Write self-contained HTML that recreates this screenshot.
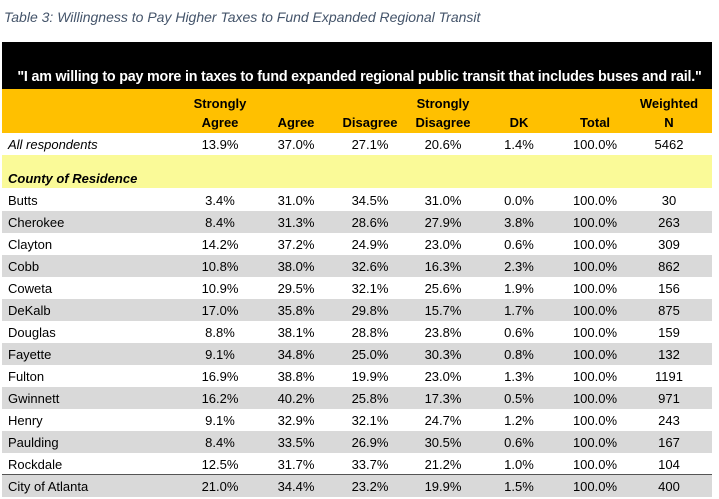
<!DOCTYPE html>
<html><head><meta charset="utf-8"><style>
body{margin:0;width:719px;height:499px;background:#fff;font-family:"Liberation Sans",sans-serif;position:relative;overflow:hidden}
.t{position:absolute;left:4px;top:9px;font-style:italic;font-size:14px;color:#44546a}
.b{position:absolute;left:2px;width:710px}
.r{position:absolute;left:2px;width:710px;height:22px;font-size:13px;color:#000}
.r span{position:absolute;top:4px;text-align:center;width:74px}
.r span.l{left:6px;text-align:left;width:170px}
.g{background:#d9d9d9}
</style></head><body>
<div class="t">Table 3: Willingness to Pay Higher Taxes to Fund Expanded Regional Transit</div>
<div class="b" style="top:42px;height:47px;background:#000"></div>
<div style="position:absolute;left:0px;width:719px;top:69px;text-align:center;color:#fff;font-weight:bold;font-size:14.3px;letter-spacing:-0.2px;white-space:nowrap">"I am willing to pay more in taxes to fund expanded regional public transit that includes buses and rail."</div>
<div class="b" style="top:89px;height:44px;background:#ffc000"></div>
<div style="position:absolute;top:94px;left:0;width:719px;font-weight:bold;font-size:13px;line-height:19px">
<div style="position:absolute;left:183px;width:74px;text-align:center">Strongly<br>Agree</div>
<div style="position:absolute;left:259px;width:74px;text-align:center"><br>Agree</div>
<div style="position:absolute;left:333px;width:74px;text-align:center"><br>Disagree</div>
<div style="position:absolute;left:406px;width:74px;text-align:center">Strongly<br>Disagree</div>
<div style="position:absolute;left:482px;width:74px;text-align:center"><br>DK</div>
<div style="position:absolute;left:558px;width:74px;text-align:center"><br>Total</div>
<div style="position:absolute;left:632px;width:74px;text-align:center">Weighted<br>N</div>
</div>
<div class="r" style="top:133px"><span class="l" style="font-style:italic">All respondents</span><span style="left:181px">13.9%</span><span style="left:257px">37.0%</span><span style="left:331px">27.1%</span><span style="left:404px">20.6%</span><span style="left:480px">1.4%</span><span style="left:556px">100.0%</span><span style="left:630px">5462</span></div>
<div class="b" style="top:155px;height:33px;background:#fafa98"></div>
<div style="position:absolute;left:8px;top:171px;font-weight:bold;font-style:italic;font-size:13px">County of Residence</div>
<div id="rows"></div>
<div style="position:absolute;left:2px;width:710px;top:474px;height:1px;background:#555"></div>
<script>
var d=[["Butts","3.4%","31.0%","34.5%","31.0%","0.0%","100.0%","30"],
["Cherokee","8.4%","31.3%","28.6%","27.9%","3.8%","100.0%","263"],
["Clayton","14.2%","37.2%","24.9%","23.0%","0.6%","100.0%","309"],
["Cobb","10.8%","38.0%","32.6%","16.3%","2.3%","100.0%","862"],
["Coweta","10.9%","29.5%","32.1%","25.6%","1.9%","100.0%","156"],
["DeKalb","17.0%","35.8%","29.8%","15.7%","1.7%","100.0%","875"],
["Douglas","8.8%","38.1%","28.8%","23.8%","0.6%","100.0%","159"],
["Fayette","9.1%","34.8%","25.0%","30.3%","0.8%","100.0%","132"],
["Fulton","16.9%","38.8%","19.9%","23.0%","1.3%","100.0%","1191"],
["Gwinnett","16.2%","40.2%","25.8%","17.3%","0.5%","100.0%","971"],
["Henry","9.1%","32.9%","32.1%","24.7%","1.2%","100.0%","243"],
["Paulding","8.4%","33.5%","26.9%","30.5%","0.6%","100.0%","167"],
["Rockdale","12.5%","31.7%","33.7%","21.2%","1.0%","100.0%","104"],
["City of Atlanta","21.0%","34.4%","23.2%","19.9%","1.5%","100.0%","400"]];
var L=[181,257,331,404,480,556,630],h="";
d.forEach(function(r,i){h+='<div class="r'+(i%2?' g':'')+'" style="top:'+(189+i*22)+'px"><span class="l">'+r[0]+'</span>';
for(var j=1;j<8;j++)h+='<span style="left:'+L[j-1]+'px">'+r[j]+'</span>';h+='</div>';});
document.getElementById('rows').innerHTML=h;
</script>
</body></html>
